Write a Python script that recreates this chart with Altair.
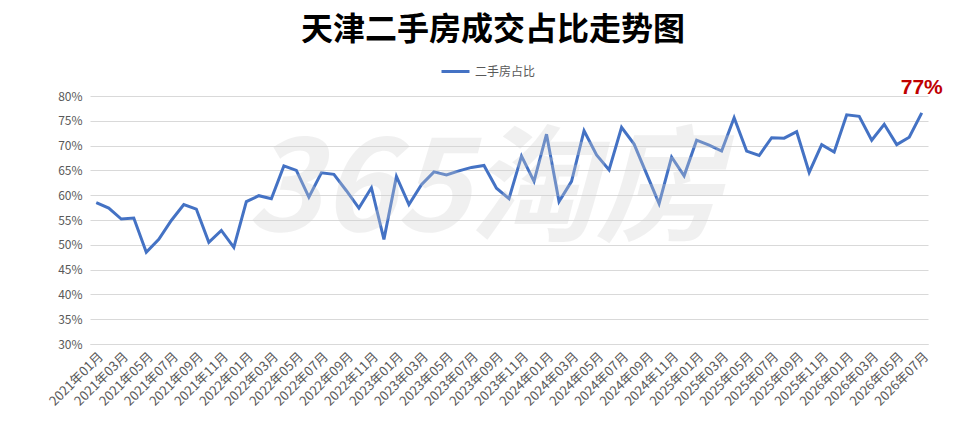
import altair as alt
import pandas as pd

# 月份（2021年01月 - 2026年07月）
months = [f"{y}年{m:02d}月" for y in range(2021, 2027) for m in range(1, 13)][:67]

# 二手房成交占比（%）
share = [
    58.5, 57.4, 55.2, 55.4, 48.5, 51.1, 54.9, 58.1, 57.2, 50.5, 52.9, 49.5,
    58.7, 59.9, 59.3, 65.9, 65.0, 59.6, 64.5, 64.2, 60.9, 57.4, 61.5, 51.1,
    63.8, 58.1, 62.1, 64.7, 64.1, 64.9, 65.6, 66.0, 61.4, 59.3, 67.9, 62.8,
    72.3, 58.7, 62.8, 73.0, 68.1, 65.1, 73.7, 70.3, 64.3, 58.3, 67.7, 63.9,
    71.1, 70.1, 68.9, 75.6, 68.9, 68.0, 71.6, 71.5, 72.8, 64.6, 70.2, 68.7,
    76.2, 75.9, 71.1, 74.3, 70.2, 71.7, 76.6,
]

y_ticks = [0.30, 0.35, 0.40, 0.45, 0.50, 0.55, 0.60, 0.65, 0.70, 0.75, 0.80]
x_ticks = months[::2]

series_name = "二手房占比"
title_text = "天津二手房成交占比走势图"
watermark = "365淘房"

df = pd.DataFrame({"month": months, "share": [v / 100 for v in share]})
df["series"] = series_name

font = "Noto Sans CJK SC"
grey = "#595959"

x = alt.X(
    "month:O",
    sort=months,
    title=None,
    scale=alt.Scale(type="point", padding=0.5),
    axis=alt.Axis(
        values=x_ticks, labelAngle=-45, labelOverlap=False, labelFont=font,
        labelFontSize=13, labelColor=grey, labelPadding=6, ticks=False,
        domainColor="#d9d9d9", grid=False,
    ),
)
y = alt.Y(
    "share:Q",
    title=None,
    scale=alt.Scale(domain=[0.30, 0.80]),
    axis=alt.Axis(
        values=y_ticks, tickCount=11, labelOverlap=False, format=".0%",
        labelFont=font, labelFontSize=12, labelColor=grey, labelPadding=8,
        ticks=False, domain=False, gridColor="#d9d9d9",
    ),
)

base = alt.Chart(df)

line = base.mark_line(strokeWidth=3).encode(
    x=x,
    y=y,
    color=alt.Color(
        "series:N",
        scale=alt.Scale(range=["#4472C4"]),
        legend=alt.Legend(
            title=None, orient="none", legendX=350, legendY=-40,
            symbolType="stroke", symbolSize=784, symbolStrokeWidth=3,
            labelFont=font, labelFontSize=12, labelColor=grey, labelOffset=4,
        ),
    ),
)

# 水印
wm_df = pd.DataFrame({"month": ["2023年08月"], "share": [0.605], "t": [watermark]})
wm = alt.Chart(wm_df).mark_text(
    font=font, fontSize=126, fontWeight="bold", fontStyle="italic",
    color="#d0d0d0", opacity=0.3, baseline="middle", align="center",
).encode(x=alt.X("month:O", sort=months), y=alt.Y("share:Q"), text="t:N")

last = base.transform_filter(alt.datum.month == months[-1]).mark_text(
    font="Liberation Sans", fontSize=21, fontWeight="bold", color="#C00000",
    dy=-25, baseline="middle",
).encode(x=x, y=y, text=alt.Text("share:Q", format=".0%"))

chart = alt.layer(line, wm, last).properties(
    width=838,
    height=248,
    autosize=alt.AutoSizeParams(type="none"),
    padding={"left": 82, "top": 88, "right": 30, "bottom": 80},
    title=alt.Title(
        title_text, font=font, fontSize=32, fontWeight="bold", color="black",
        anchor="middle", offset=9, dx=-16,
    ),
).configure_view(stroke=None)

chart.save("out.html", embed_options={"renderer": "svg", "actions": False})
